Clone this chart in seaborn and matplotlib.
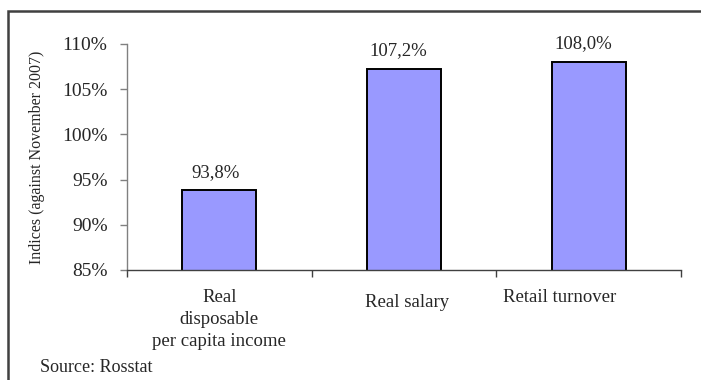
import matplotlib
matplotlib.use("Agg")
import matplotlib.pyplot as plt
import matplotlib.transforms as mtransforms
from matplotlib.patches import Rectangle
from matplotlib.ticker import FuncFormatter
import seaborn as sns
import pandas as pd

categories = ["Real\ndisposable\nper capita income", "Real salary", "Retail turnover"]
values = [93.8, 107.2, 108.0]
value_labels = ["93,8%", "107,2%", "108,0%"]
y_ticks = [85, 90, 95, 100, 105, 110]

sns.set_theme(style="white")
plt.rcParams['font.family'] = ['Liberation Serif', 'DejaVu Serif']

fig = plt.figure(figsize=(7.01, 3.80), dpi=100)
ax = fig.add_axes([127/701, 1-270/380, (681-127)/701, (270-44)/380])

df = pd.DataFrame({"cat": categories, "val": values})
sns.barplot(data=df, x="cat", y="val", ax=ax, color="#9999FF", width=0.4,
            edgecolor="black", linewidth=1.4, saturation=1)

ax.set_ylim(85, 110)
ax.set_xlim(-0.5, 2.5)
ax.set_yticks(y_ticks)
ax.yaxis.set_major_formatter(FuncFormatter(lambda v, p: f"{int(v)}%"))
ax.tick_params(axis="y", direction="out", length=5, width=1, color="#808080",
               labelsize=14, pad=9, left=True)

# x: tick marks at category boundaries, labels at centers
ax.set_xticks([-0.5, 0.5, 1.5, 2.5])
ax.set_xticklabels([])
ax.set_xticks([0, 1, 2], minor=True)
ax.set_xticklabels(categories, minor=True, fontsize=13.5, linespacing=1.35)
ax.tick_params(axis="x", which="major", direction="out", length=5, width=1,
               color="#404040", bottom=True)
ax.tick_params(axis="x", which="minor", length=0, pad=14)
offsets = [(0, 0), (3, -5), (-29, 0)]
for lab, (dx, dy) in zip(ax.get_xticklabels(minor=True), offsets):
    lab.set_transform(lab.get_transform() +
                      mtransforms.ScaledTranslation(dx/100, dy/100, fig.dpi_scale_trans))

ax.set_xlabel("")
ax.set_ylabel("Indices (against November 2007)", fontsize=11.5, labelpad=12)

for s in ["top", "right"]:
    ax.spines[s].set_visible(False)
ax.spines["left"].set_color("#808080")
ax.spines["bottom"].set_color("#404040")
ax.spines["left"].set_linewidth(1)
ax.spines["bottom"].set_linewidth(1)

label_offsets = [(-3, 0), (-4, 0), (-4, 0)]
for i, (v, t) in enumerate(zip(values, value_labels)):
    dx, dy = label_offsets[i]
    ax.annotate(t, (i, v), xytext=(dx, 7), textcoords="offset points",
                ha="center", va="bottom", fontsize=13.5)

fig.text(40/701, 1-368/380, "Source: Rosstat", fontsize=13, ha="left", va="center")

fig.patches.append(Rectangle((8/701, -0.05), 1.2, 1-11/380+0.05,
                             transform=fig.transFigure, fill=False,
                             edgecolor="#404040", linewidth=1.8))

fig.savefig("out.png", dpi=100)
